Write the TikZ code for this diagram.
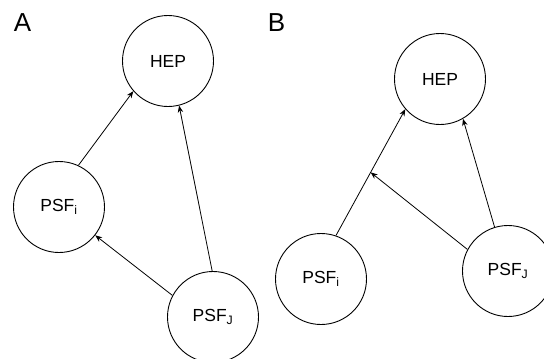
\documentclass[tikz,border=0pt]{standalone}
\usepackage{fontspec}
\setmainfont{Liberation Sans}
\usetikzlibrary{arrows.meta}
\begin{document}
\begin{tikzpicture}[x=1pt,y=-1pt,
  circ/.style={draw,circle,line width=0.9pt,minimum size=91pt,inner sep=0pt,
    font=\fontsize{17.5}{20}\selectfont},
  lab/.style={font=\fontsize{26}{30}\selectfont,inner sep=0pt},
  conn/.style={line width=0.8pt,-{Stealth[length=7pt,width=5.5pt]}}]
\useasboundingbox (0,0) rectangle (544,359);
% Panel A
\node[lab] (labA) at (22.5,23) {A};
\node[circ] (hepA) at (168,61) {HEP};
\node[circ] (psfiA) at (59,207) {PSF\textsubscript{i}};
\node[circ] (psfjA) at (213,317) {PSF\textsubscript{J}};
\draw[conn] (psfiA.65) -- (hepA.221);
\draw[conn] (psfjA.91) -- (hepA.284);
\draw[conn] (psfjA.152) -- (psfiA.322);
% Panel B
\node[lab] (labB) at (276.5,23) {B};
\node[circ] (hepB) at (440,79) {HEP};
\node[circ] (psfiB) at (321,279) {PSF\textsubscript{i}};
\node[circ] (psfjB) at (508,271) {PSF\textsubscript{J}};
\draw[conn] (psfiB.71) -- coordinate[pos=0.5] (midB) (hepB.221);
\draw[conn] (psfjB.107) -- (hepB.300);
\draw[conn] (psfjB.152) -- (midB);
\end{tikzpicture}
\end{document}
